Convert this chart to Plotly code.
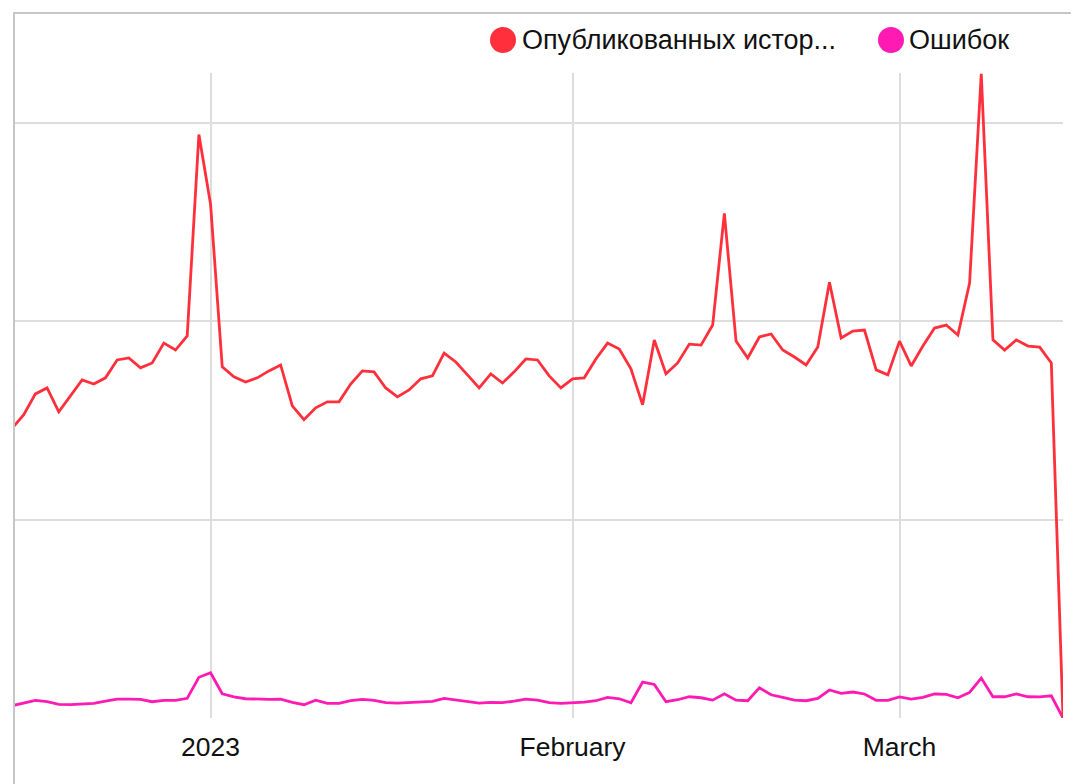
import pandas as pd
import plotly.graph_objects as go

# ---- data (daily, 15 Dec 2022 .. 15 Mar 2023) ----
start_date = "2022-12-15"
published = [
    1459, 1528, 1633, 1663, 1543, 1623, 1704, 1683, 1714, 1804, 1814, 1764, 1789, 1889, 1854, 1925, 2940,  # Dec 15-31
    2588, 1769, 1719, 1693, 1714, 1749, 1779, 1573, 1503, 1563, 1593, 1593, 1683, 1749, 1744, 1663,       # Jan 1-16
    1618, 1653, 1709, 1724, 1839, 1794, 1729, 1663, 1734, 1688, 1744, 1809, 1804, 1724, 1663,             # Jan 17-31
    1709, 1714, 1809, 1889, 1859, 1759, 1578, 1905, 1734, 1789, 1884, 1879, 1980, 2543,                   # Feb 1-14
    1899, 1814, 1920, 1935, 1854, 1819, 1779, 1869, 2196, 1915, 1950, 1955, 1754, 1729,                   # Feb 15-28
    1899, 1774, 1874, 1965, 1980, 1930, 2191, 3246, 1905, 1854, 1905, 1874, 1869, 1789, 0,               # Mar 1-15
]
errors = [
    62, 75, 89, 82, 69, 67, 70, 74, 85, 95, 95, 94, 82, 89, 89, 99, 205,
    228, 122, 106, 97, 95, 94, 95, 79, 67, 90, 74, 74, 87, 94, 89, 77,
    75, 77, 82, 84, 99, 90, 82, 75, 79, 77, 85, 95, 90, 77, 74,
    77, 80, 87, 104, 97, 77, 181, 169, 82, 92, 107, 102, 90, 122,
    90, 87, 152, 117, 104, 90, 87, 99, 141, 124, 131, 121, 89, 89,
    106, 95, 104, 121, 119, 102, 129, 201, 107, 107, 121, 107, 106, 112, 0,
]
series_names = ["Опубликованных истор...", "Ошибок"]
series_colors = ["#ff303c", "#ff1ab4"]
tick_dates = ["2023-01-01", "2023-02-01", "2023-03-01"]
tick_labels = ["2023", "February", "March"]
y_grid = [0, 1000, 2000, 3000]

dates = pd.date_range(start_date, periods=len(published), freq="D")

# the page body adds an 8px margin, so the figure is drawn 8px smaller
OFF = 8
W, H = 1079 - OFF, 784 - OFF
# plot area in screen pixels: x 14..1063, y 73..718
L, T = 14 - OFF, 73 - OFF
R, B = 1079 - 1063, 784 - 718
pw, ph = W - L - R, H - T - B


def px_x(x):  # screen pixel -> paper
    return (x - OFF - L) / pw


def px_y(y):
    return (H - B - (y - OFF)) / ph


fig = go.Figure()
fig.add_trace(go.Scatter(x=dates, y=errors, mode="lines", name=series_names[1],
                         line=dict(color=series_colors[1], width=2.8), showlegend=False))
fig.add_trace(go.Scatter(x=dates, y=published, mode="lines", name=series_names[0],
                         line=dict(color=series_colors[0], width=2.8), showlegend=False))

font_family = "Liberation Sans, Arial, Helvetica, sans-serif"

shapes = []
annotations = []
# manual legend (large round markers)
legend_items = [(503, 522), (891, 909)]
for (cx, tx), name, col in zip(legend_items, series_names, series_colors):
    r = 13
    cy = 40
    shapes.append(dict(type="circle", xref="paper", yref="paper",
                       x0=px_x(cx - r), x1=px_x(cx + r), y0=px_y(cy + r), y1=px_y(cy - r),
                       fillcolor=col, line=dict(width=0)))
    annotations.append(dict(xref="paper", yref="paper", x=px_x(tx - 2), y=px_y(cy),
                            xanchor="left", yanchor="middle", text=name, showarrow=False,
                            font=dict(size=27, color="#111111", family=font_family)))

# card frame (top and left border)
shapes.append(dict(type="line", xref="paper", yref="paper",
                   x0=px_x(14), x1=px_x(14), y0=px_y(13), y1=px_y(800),
                   line=dict(color="#c6c6c6", width=2)))
shapes.append(dict(type="line", xref="paper", yref="paper",
                   x0=px_x(13), x1=px_x(1090), y0=px_y(13), y1=px_y(13),
                   line=dict(color="#c6c6c6", width=2)))

fig.update_layout(
    width=W, height=H,
    margin=dict(l=L, r=R, t=T, b=B, pad=0),
    paper_bgcolor="white", plot_bgcolor="white",
    showlegend=False,
    font=dict(family=font_family, color="#111111"),
    shapes=shapes, annotations=annotations,
    xaxis=dict(
        range=["2022-12-15 04:00", "2023-03-15 00:00"],
        tickmode="array", tickvals=tick_dates, ticktext=tick_labels,
        showgrid=True, gridcolor="#dddddd", gridwidth=2,
        zeroline=False, showline=False, ticks="",
        tickfont=dict(size=26.5, color="#111111", family=font_family),
        ticklabelstandoff=10,
    ),
    yaxis=dict(
        range=[0, 3250],
        tickmode="array", tickvals=y_grid,
        showticklabels=False,
        showgrid=True, gridcolor="#dddddd", gridwidth=2,
        zeroline=False, showline=False, ticks="",
    ),
)

fig.write_html("out.html")
